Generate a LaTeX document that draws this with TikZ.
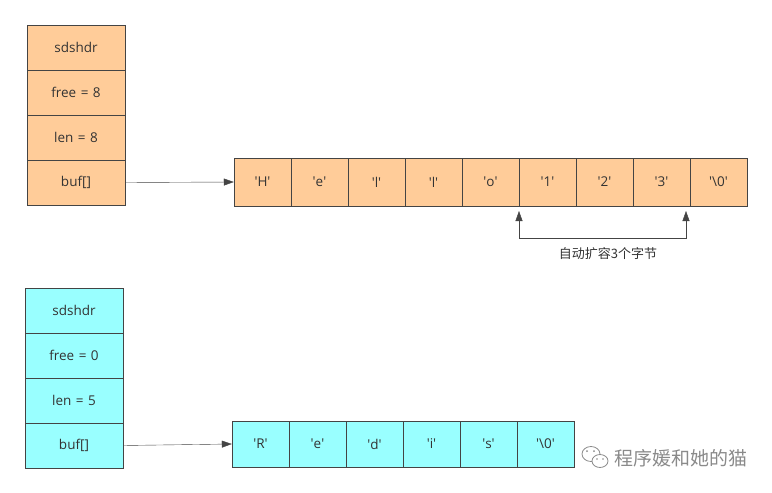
\documentclass[tikz,border=0pt]{standalone}
\usepackage{fontspec}
\setmainfont{Open Sans}
\newfontfamily\cjk{Noto Sans CJK SC}
\usetikzlibrary{arrows.meta}

\definecolor{sdsorange}{HTML}{FFCC99}
\definecolor{sdscyan}{HTML}{99FFFF}
\definecolor{sdsline}{HTML}{444444}
\definecolor{sdstext}{HTML}{333333}
\definecolor{markgray}{HTML}{8A8A8A}

\newcommand{\q}[1]{\textquotesingle#1\textquotesingle}
\newcommand{\fieldfont}{\fontsize{13.5}{16}\selectfont\spaceskip=4.5pt\relax}

\tikzset{
  field/.style={draw=sdsline, text=sdstext, minimum width=98pt, minimum height=45pt,
    inner sep=0pt, font=\fieldfont},
  slot/.style={draw=sdsline, text=sdstext, minimum width=57pt, inner sep=0pt,
    font=\fontsize{13.5}{16}\selectfont},
  ptr/.style={draw=sdsline, -{Triangle[length=10pt,width=7pt]}}
}

\begin{document}
\begin{tikzpicture}[x=1pt,y=-1pt]
    \useasboundingbox (0,0) rectangle (772,493);

    % first sdshdr (after growing)
    \foreach \t [count=\i] in {sdshdr, free = 8, len = 8, buf[]}
      \node[field, fill=sdsorange] (oh\i) at (76, 2.5 + 45*\i) {\t};

    % its buffer
    \foreach \c [count=\i] in {H,e,l,l,o,1,2,3,\textbackslash 0}
      \node[slot, fill=sdsorange, minimum height=48pt] (ob\i) at (205.5 + 57*\i, 182) {\q{\c}};

    \draw[ptr] (oh4.east) -- (ob1.west);

    % the three extra bytes
    \coordinate (ga) at (519,211);
    \coordinate (gl) at (519,238);
    \coordinate (gr) at (686,238);
    \coordinate (gb) at (686,211);
    \draw[draw=sdsline, {Triangle[length=10pt,width=7pt]}-{Triangle[length=10pt,width=7pt]}]
      (ga) -- (gl) -- (gr) -- (gb);
    \node[text=sdstext, font=\cjk\fontsize{13}{15}\selectfont] (glabel) at (608,254) {自动扩容3个字节};

    % second sdshdr
    \foreach \t [count=\i] in {sdshdr, free = 0, len = 5, buf[]}
      \node[field, fill=sdscyan] (nh\i) at (74, 265.5 + 45*\i) {\t};

    % its buffer
    \foreach \c [count=\i] in {R,e,d,i,s,\textbackslash 0}
      \node[slot, fill=sdscyan, minimum height=46pt] (nb\i) at (203.5 + 57*\i, 444) {\q{\c}};

    \draw[ptr] (nh4.east) -- (nb1.west);

    % watermark
    \draw[markgray, fill=white, line width=0.8pt] (591,454) ellipse (9 and 7.5);
    \draw[markgray, fill=white, line width=0.8pt] (600,461) ellipse (8 and 6.5);
    \fill[markgray] (587,451) circle (1) (594,451) circle (1) (597,459) circle (0.9) (603,459) circle (0.9);
    \node[text=markgray, font=\cjk\fontsize{19}{19}\selectfont, anchor=west, inner sep=0pt] (mark) at (614,458) {程序媛和她的猫};

\end{tikzpicture}
\end{document}
